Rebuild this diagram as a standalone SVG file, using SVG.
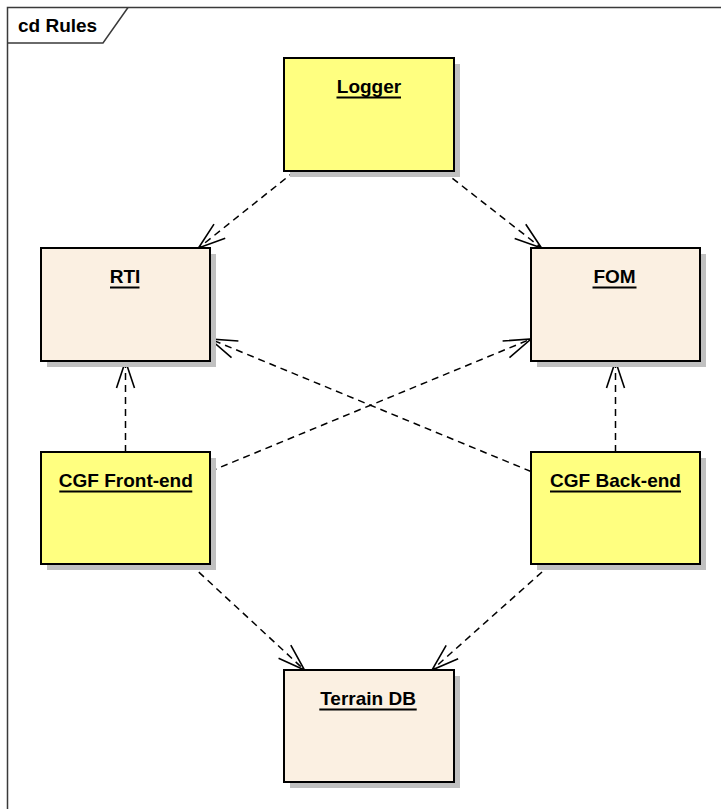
<svg xmlns="http://www.w3.org/2000/svg" width="721" height="809" viewBox="0 0 721 809">
<defs>
<style>
.shadow{fill:#c0c0c0;stroke:none}
.box{stroke:#000;stroke-width:2}
.yellow{fill:#ffff80}
.beige{fill:#fbf0e2}
.lbl{font-family:"Liberation Sans",Arial,sans-serif;font-weight:bold;font-size:19px;fill:#000;text-anchor:middle}
.ul{stroke:#000;stroke-width:2}
.dep{fill:none;stroke:#000;stroke-width:1.5;stroke-dasharray:7,5;marker-end:url(#open)}
.frame{fill:none;stroke:#3a3a3a;stroke-width:1.5}
</style>
<marker id="open" markerUnits="userSpaceOnUse" markerWidth="40" markerHeight="40" viewBox="-30 -20 40 40" refX="0" refY="0" orient="auto" overflow="visible">
<path d="M-27,-9 L0,0 L-27,9" fill="none" stroke="#000" stroke-width="1.6" stroke-dasharray="none"/>
</marker>
</defs>
<rect width="721" height="809" fill="#fff"/>
<g id="frame">
<path class="frame" d="M7.5,809 V7.5 H721"/>
<path class="frame" d="M7.5,43 H103 L128,7.5"/>
<text x="18" y="31.5" style="font-family:'Liberation Sans',Arial,sans-serif;font-weight:bold;font-size:19px">cd Rules</text>
</g>
<g id="connectors">
<line class="dep" x1="295" y1="171" x2="198.5" y2="248"/>
<line class="dep" x1="443" y1="171" x2="541.5" y2="248"/>
<line class="dep" x1="125.5" y1="452" x2="125.5" y2="361"/>
<line class="dep" x1="615.5" y1="452" x2="615.5" y2="361"/>
<line class="dep" x1="210" y1="471.5" x2="531" y2="339"/>
<line class="dep" x1="531" y1="471.5" x2="210" y2="339"/>
<line class="dep" x1="190" y1="564" x2="304.5" y2="670"/>
<line class="dep" x1="551" y1="564" x2="432" y2="670"/>
</g>
<g id="logger">
<rect class="shadow" x="290" y="64" width="170" height="113"/>
<rect class="box yellow" x="284" y="58" width="170" height="113"/>
<text class="lbl" x="369" y="92.5">Logger</text>
<line class="ul" x1="336.5" y1="97.5" x2="401" y2="97.5"/>
</g>
<g id="rti">
<rect class="shadow" x="47" y="254" width="169" height="113"/>
<rect class="box beige" x="41" y="248" width="169" height="113"/>
<text class="lbl" x="125" y="283">RTI</text>
<line class="ul" x1="110" y1="287.5" x2="139.5" y2="287.5"/>
</g>
<g id="fom">
<rect class="shadow" x="537" y="254" width="169" height="113"/>
<rect class="box beige" x="531" y="248" width="169" height="113"/>
<text class="lbl" x="614.5" y="283">FOM</text>
<line class="ul" x1="592.5" y1="287.5" x2="636.5" y2="287.5"/>
</g>
<g id="cgf-front-end">
<rect class="shadow" x="47" y="458" width="169" height="112"/>
<rect class="box yellow" x="41" y="452" width="169" height="112"/>
<text class="lbl" x="125.8" y="486.5">CGF Front-end</text>
<line class="ul" x1="59.3" y1="491.5" x2="192.3" y2="491.5"/>
</g>
<g id="cgf-back-end">
<rect class="shadow" x="537" y="458" width="169" height="112"/>
<rect class="box yellow" x="531" y="452" width="169" height="112"/>
<text class="lbl" x="615.5" y="486.5">CGF Back-end</text>
<line class="ul" x1="550" y1="491.5" x2="681" y2="491.5"/>
</g>
<g id="terrain-db">
<rect class="shadow" x="290" y="676" width="170" height="112"/>
<rect class="box beige" x="284" y="670" width="170" height="112"/>
<text class="lbl" x="368" y="704.5">Terrain DB</text>
<line class="ul" x1="319.3" y1="709.5" x2="416.7" y2="709.5"/>
</g>
</svg>
